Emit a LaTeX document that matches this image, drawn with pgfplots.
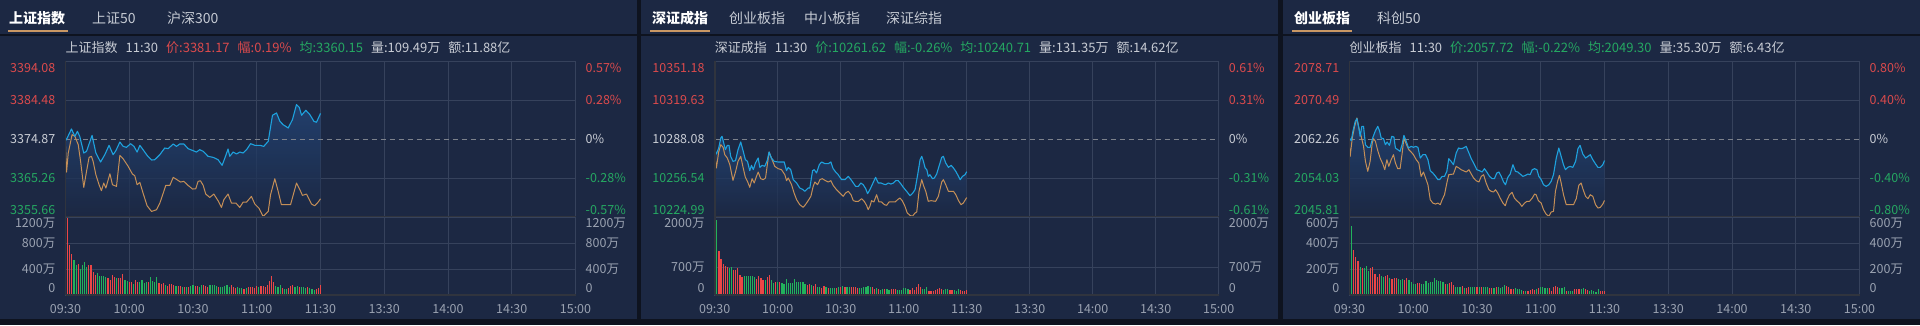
\documentclass[border=0pt]{standalone}
\usepackage{pgfplots}
\pgfplotsset{compat=1.18}
\usepackage{pgfplotstable}
\usepackage{fontspec}
\setmainfont{Noto Sans CJK SC}

\definecolor{bgout}{HTML}{0E131F}
\definecolor{panel}{HTML}{1C2843}
\definecolor{gridc}{HTML}{36425C}
\definecolor{axdark}{HTML}{30343E}
\definecolor{pblue}{HTML}{1EA2DE}
\definecolor{porange}{HTML}{C58F57}
\definecolor{vred}{HTML}{EC4646}
\definecolor{vgreen}{HTML}{22B25C}
\definecolor{tred}{HTML}{DB4A4C}
\definecolor{tgreen}{HTML}{25A862}
\definecolor{tgrey}{HTML}{9AA2B1}
\definecolor{tlight}{HTML}{C9CDD5}
\definecolor{tabin}{HTML}{C5CAD3}
\definecolor{tabline}{HTML}{C99763}
\definecolor{dashc}{HTML}{7D828C}
\definecolor{fillt}{HTML}{24477A}

% ---------- panel 1: 上证指数 ----------
\pgfplotstableread{
t v
0 3374.46
0.8 3375.12
2.8 3377.34
4.4 3375.53
5.6 3376.76
6.7 3375.53
8.6 3371.42
9.9 3371.83
12.5 3375.77
14.3 3371.42
16.5 3369.20
18.5 3371.01
20.5 3373.31
22.4 3371.01
23.7 3371.99
25.6 3374.13
27.1 3373.06
28.7 3372.81
30.6 3373.72
32.2 3373.06
33.7 3371.66
35.0 3373.31
36.5 3372.24
38.4 3370.84
40.5 3369.69
42.0 3369.77
44.4 3371.01
46.7 3372.65
48.3 3372.49
50.7 3373.64
52.2 3373.06
53.8 3373.64
55.7 3373.64
57.7 3372.49
60.1 3371.99
61.6 3371.66
63.2 3372.24
64.8 3371.83
67.1 3370.60
69.5 3370.35
71.8 3369.77
73.7 3368.38
75.0 3370.19
76.5 3372.40
77.3 3370.60
78.9 3371.66
80.5 3371.17
82.0 3371.66
83.6 3371.42
85.2 3372.24
87.1 3373.72
89.1 3373.31
91.5 3373.31
93.3 3373.06
95.4 3374.29
97.4 3380.71
99.3 3381.28
100.9 3379.23
102.4 3378.40
104.8 3377.58
106.8 3379.64
108.7 3383.34
110.0 3382.68
111.1 3380.71
113.1 3381.94
115.0 3380.87
116.9 3379.23
118.1 3378.98
120.0 3381.17
}\pOneB
\pgfplotstableread{
t v
0 3373.06
0.5 3366.73
1.3 3371.42
3.1 3375.94
4.4 3375.53
6.0 3373.47
7.1 3369.36
8.6 3362.95
9.9 3366.90
11.1 3370.35
12.2 3370.60
13.0 3369.36
14.3 3366.07
15.8 3363.61
16.9 3362.13
18.0 3364.02
19.0 3362.79
20.9 3366.32
22.1 3363.61
24.0 3363.20
25.6 3370.84
27.1 3370.02
29.5 3368.13
31.5 3366.24
32.6 3365.83
33.7 3363.61
35.0 3364.18
36.5 3361.55
38.4 3358.43
40.5 3357.03
42.8 3357.44
44.4 3359.09
46.0 3361.55
47.2 3363.44
49.1 3363.44
50.7 3365.42
52.5 3364.84
54.1 3364.27
55.7 3364.43
57.7 3363.44
59.8 3362.54
61.3 3362.62
62.4 3364.43
63.5 3364.59
64.8 3363.44
66.0 3361.31
67.9 3360.48
69.8 3361.31
71.8 3359.66
73.4 3358.02
74.5 3359.91
76.5 3361.31
78.1 3359.09
80.2 3359.09
82.0 3358.02
83.6 3359.33
85.2 3359.33
87.5 3360.73
89.1 3358.84
91.0 3357.85
93.0 3355.80
95.4 3357.03
96.5 3361.14
98.5 3365.09
100.1 3361.96
101.6 3358.68
105.9 3358.68
108.7 3364.02
110.3 3362.38
111.5 3360.98
113.4 3361.31
115.8 3358.84
117.3 3358.43
118.9 3359.33
120.0 3360.15
}\pOneO
\pgfplotstableread{
t r g
0 0 335
1 1187 0
2 774 0
3 630 0
4 0 542
5 0 454
6 480 0
7 0 402
8 0 454
9 0 506
10 0 428
11 464 0
12 454 0
13 351 0
14 310 0
15 0 346
16 0 294
17 0 299
18 0 299
19 0 284
20 268 0
21 232 0
22 310 0
23 273 0
24 0 258
25 258 0
26 258 0
27 320 0
28 0 232
29 0 222
30 206 0
31 196 0
32 0 165
33 232 0
34 206 0
35 0 196
36 0 232
37 0 191
38 0 196
39 206 0
40 0 284
41 0 217
42 0 206
43 0 284
44 181 0
45 175 0
46 191 0
47 0 155
48 139 0
49 170 0
50 165 0
51 155 0
52 0 139
53 139 0
54 134 0
55 0 129
56 129 0
57 0 129
58 124 0
59 0 134
60 0 150
61 145 0
62 139 0
63 0 124
64 0 150
65 160 0
66 139 0
67 124 0
68 0 150
69 0 155
70 0 150
71 0 134
72 124 0
73 0 119
74 0 119
75 0 134
76 0 150
77 0 129
78 160 0
79 124 0
80 114 0
81 0 119
82 0 108
83 0 103
84 93 0
85 0 114
86 119 0
87 124 0
88 129 0
89 103 0
90 145 0
91 0 119
92 134 0
93 145 0
94 129 0
95 155 0
96 217 0
97 294 0
98 206 0
99 0 139
100 0 129
101 0 150
102 103 0
103 0 88
104 0 88
105 114 0
106 139 0
107 155 0
108 0 129
109 0 145
110 129 0
111 0 119
112 0 119
113 0 114
114 129 0
115 0 103
116 0 88
117 0 83
118 93 0
119 114 0
120 150 0
}\vOne

% ---------- panel 2: 深证成指 ----------
\pgfplotstableread{
t v
0 10279.45
0.8 10275.95
1.9 10280.80
2.9 10288.89
3.5 10290.24
4.5 10283.50
5.1 10279.45
6.0 10282.96
6.8 10282.96
7.6 10274.06
8.7 10270.02
9.9 10270.56
11.1 10279.45
12.4 10285.65
13.5 10278.64
14.6 10271.36
15.6 10270.02
16.7 10262.47
17.5 10266.78
18.4 10263.28
19.4 10268.67
20.7 10272.71
21.5 10265.16
22.6 10266.78
23.8 10265.97
25.0 10270.56
25.9 10277.57
27.0 10272.71
28.3 10270.02
30.2 10269.48
33.1 10269.48
34.2 10262.47
35.0 10265.16
36.2 10263.28
37.4 10255.19
39.0 10252.49
40.5 10248.45
42.1 10247.10
42.9 10245.75
44.5 10248.45
45.3 10248.45
46.6 10262.47
47.4 10263.28
48.5 10260.58
49.8 10267.32
50.9 10269.48
52.5 10268.13
54.1 10268.13
55.3 10269.48
56.4 10264.09
57.6 10261.39
58.8 10259.23
60.4 10255.19
62.0 10255.19
63.6 10257.88
64.9 10255.19
66.0 10252.49
67.1 10249.80
68.4 10249.80
69.6 10252.49
70.7 10251.14
71.9 10247.91
72.8 10243.87
73.9 10247.10
75.0 10251.14
76.6 10257.08
77.9 10252.49
79.2 10252.49
80.3 10251.68
81.4 10251.14
82.7 10252.49
83.9 10251.68
85.1 10252.49
86.2 10254.38
87.4 10254.38
88.7 10251.68
89.8 10248.99
91.4 10245.75
93.0 10242.25
94.1 10243.87
95.4 10247.10
96.7 10259.77
97.8 10271.36
98.6 10274.06
99.4 10270.02
100.2 10264.62
101.0 10263.28
101.7 10257.88
102.5 10259.23
103.7 10256.00
104.6 10256.54
105.7 10259.77
106.8 10265.97
108.1 10273.25
108.9 10274.06
110.0 10268.67
111.3 10265.16
112.6 10266.78
113.7 10264.62
114.8 10261.93
116.1 10257.88
116.9 10255.19
118.0 10257.88
119.2 10259.23
120.0 10261.62
}\pTwoB
\pgfplotstableread{
t v
0 10275.41
0.8 10264.62
1.9 10277.57
2.9 10283.50
4.0 10281.34
4.8 10275.41
6.0 10272.71
7.2 10267.32
8.7 10254.65
9.9 10261.39
11.1 10270.02
12.4 10274.06
13.5 10265.16
14.6 10257.08
15.6 10253.84
16.7 10248.99
17.8 10256.00
18.8 10252.49
19.9 10257.88
20.7 10261.39
21.9 10256.00
23.1 10255.19
24.2 10256.54
25.9 10277.57
27.0 10272.71
28.6 10265.97
30.2 10264.09
31.8 10263.28
33.4 10259.23
34.2 10254.38
35.0 10256.54
36.6 10251.14
37.8 10244.40
39.0 10239.01
40.5 10234.97
42.1 10232.81
43.2 10234.97
44.5 10238.20
45.8 10241.71
46.9 10249.80
47.7 10253.30
49.0 10251.14
50.1 10255.19
51.2 10256.00
52.5 10254.65
54.1 10253.30
55.3 10254.38
56.4 10250.61
58.0 10247.10
59.6 10244.40
61.2 10241.71
62.3 10244.40
63.6 10245.75
64.9 10243.06
66.0 10238.20
67.1 10237.66
68.4 10237.66
70.0 10239.82
71.2 10237.66
72.3 10234.43
73.1 10230.92
73.9 10233.62
74.7 10238.20
75.8 10237.13
77.1 10243.06
78.2 10237.13
79.5 10237.13
80.8 10234.97
81.9 10234.43
83.0 10237.13
85.9 10237.13
87.1 10239.01
88.2 10240.36
89.3 10238.20
90.6 10233.62
91.7 10228.23
93.0 10226.34
94.1 10225.53
95.4 10228.23
96.2 10229.04
97.3 10245.75
98.6 10255.19
99.4 10250.61
100.5 10245.75
101.7 10237.66
103.0 10238.20
105.2 10237.66
106.5 10241.71
108.1 10253.30
108.9 10255.19
110.0 10251.14
111.3 10245.75
113.7 10245.75
114.8 10243.06
116.1 10238.20
117.3 10234.97
118.4 10236.32
120.0 10240.71
}\pTwoO
\pgfplotstableread{
t r g
0 0 620
1 0 1935
2 1135 0
3 930 0
4 790 0
5 755 0
6 730 0
7 0 690
8 0 715
9 645 0
10 630 0
11 705 0
12 515 0
13 450 0
14 0 475
15 0 475
16 0 475
17 0 475
18 0 475
19 0 450
20 410 0
21 490 0
22 430 0
23 385 0
24 0 385
25 450 0
26 515 0
27 0 385
28 0 320
29 325 0
30 0 325
31 325 0
32 0 300
33 0 285
34 0 405
35 0 300
36 0 320
37 0 320
38 0 410
39 0 325
40 0 325
41 0 325
42 0 325
43 0 285
44 260 0
45 285 0
46 0 260
47 240 0
48 275 0
49 0 205
50 0 215
51 190 0
52 230 0
53 0 200
54 190 0
55 0 190
56 0 190
57 0 170
58 170 0
59 0 200
60 200 0
61 0 225
62 200 0
63 0 200
64 0 200
65 200 0
66 200 0
67 200 0
68 170 0
69 0 190
70 0 190
71 0 205
72 0 205
73 0 230
74 0 205
75 215 0
76 155 0
77 0 170
78 145 0
79 0 130
80 0 145
81 145 0
82 0 145
83 0 130
84 155 0
85 145 0
86 155 0
87 0 130
88 0 120
89 0 130
90 0 170
91 0 170
92 0 155
93 140 0
94 170 0
95 130 0
96 215 0
97 275 0
98 215 0
99 0 155
100 0 155
101 0 200
102 110 0
103 100 0
104 110 0
105 120 0
106 145 0
107 170 0
108 155 0
109 0 130
110 0 155
111 0 155
112 130 0
113 130 0
114 0 130
115 0 110
116 0 155
117 130 0
118 110 0
119 110 0
120 130 0
}\vTwo

% ---------- panel 3: 创业板指 ----------
\pgfplotstableread{
t v
0 2062.47
0.8 2061.91
1.6 2063.88
2.7 2065.99
3.5 2066.55
4.4 2064.58
5.0 2062.82
5.8 2064.93
6.6 2064.93
7.5 2061.06
8.6 2060.50
9.7 2060.50
11.0 2062.61
12.2 2064.02
13.3 2064.93
14.1 2064.02
14.9 2062.47
16.0 2062.33
16.9 2061.06
17.7 2061.63
18.8 2060.92
19.9 2062.82
20.9 2062.68
21.6 2060.36
22.7 2060.01
23.8 2059.66
24.8 2061.20
25.6 2063.03
26.7 2061.77
27.8 2060.36
29.0 2060.71
30.1 2060.50
31.1 2060.71
32.2 2060.50
33.3 2058.25
34.5 2058.95
35.8 2058.95
36.9 2057.90
38.0 2055.58
39.2 2055.09
40.5 2054.38
41.6 2053.68
42.4 2053.68
43.6 2054.38
44.7 2054.38
45.8 2055.44
46.7 2058.11
47.8 2057.55
48.9 2056.84
50.2 2059.31
51.3 2060.36
52.5 2060.22
53.6 2060.36
54.9 2060.71
56.2 2059.31
57.3 2058.11
58.8 2056.84
59.9 2055.79
61.2 2055.58
62.4 2055.30
63.5 2056.00
64.6 2055.30
65.9 2054.38
67.1 2053.89
68.2 2053.89
69.3 2055.09
70.3 2055.30
71.4 2054.38
72.5 2053.19
73.4 2052.62
74.5 2054.17
75.6 2054.87
76.9 2056.84
78.1 2055.44
79.2 2055.30
80.3 2054.87
81.6 2054.38
82.8 2054.59
83.9 2054.87
85.0 2054.73
86.0 2055.79
87.1 2056.00
88.2 2055.79
89.1 2054.38
90.2 2053.68
91.3 2052.62
92.5 2052.27
93.8 2052.62
94.9 2053.33
96.0 2054.73
97.3 2058.25
98.5 2060.36
99.6 2058.60
100.7 2056.84
101.6 2055.79
102.7 2056.28
103.8 2056.49
105.1 2056.28
106.4 2057.55
107.5 2060.22
108.5 2060.92
109.8 2059.09
111.1 2058.25
112.2 2058.60
113.3 2058.95
114.5 2057.90
115.8 2056.98
116.9 2056.28
118.0 2056.28
119.2 2056.84
120.0 2057.72
}\pThreeB
\pgfplotstableread{
t v
0 2060.36
0.3 2058.60
1.3 2062.47
2.4 2064.93
3.5 2066.69
4.4 2064.58
5.5 2062.82
6.6 2060.71
7.5 2057.55
8.6 2055.44
9.7 2057.55
10.7 2061.42
11.3 2062.33
12.2 2061.77
13.3 2059.80
14.4 2058.25
15.7 2056.98
16.6 2055.79
17.6 2057.90
18.5 2056.49
19.6 2057.90
20.7 2058.95
21.6 2057.20
22.7 2056.00
23.8 2056.00
24.8 2059.31
25.6 2062.47
26.7 2061.20
27.9 2060.01
29.0 2059.52
30.1 2058.95
31.4 2057.90
32.6 2057.20
33.7 2054.38
34.8 2055.30
35.8 2054.03
36.9 2052.62
38.0 2049.46
39.2 2048.75
40.5 2048.54
41.6 2048.75
42.7 2048.40
43.6 2049.46
44.7 2050.51
45.8 2052.98
46.7 2054.73
48.9 2054.87
50.2 2056.49
51.5 2056.14
52.5 2055.79
53.6 2055.58
54.9 2055.30
56.2 2055.79
57.3 2054.87
58.4 2054.03
59.6 2053.47
60.9 2053.19
62.0 2054.38
63.1 2054.73
64.3 2052.98
65.6 2051.57
66.7 2051.22
67.8 2051.08
68.7 2051.57
69.8 2050.86
70.9 2049.81
72.2 2048.75
73.3 2048.19
74.2 2049.46
75.3 2050.51
76.5 2051.01
77.6 2049.81
78.7 2049.25
80.0 2048.75
81.1 2048.05
82.4 2048.75
83.5 2049.11
84.7 2049.11
86.0 2049.81
87.1 2050.65
87.8 2050.51
88.9 2049.25
90.2 2048.75
91.3 2047.35
92.5 2046.43
93.8 2045.94
94.9 2046.86
96.0 2047.00
96.9 2051.22
98.0 2053.47
98.8 2054.59
99.6 2052.98
100.7 2050.51
102.0 2048.40
105.4 2048.40
106.7 2049.67
107.9 2052.48
109.0 2052.98
109.8 2051.78
111.1 2050.16
112.2 2049.67
113.3 2050.51
114.5 2050.16
115.8 2048.40
116.9 2047.70
118.0 2047.84
119.2 2048.54
120.0 2049.30
}\pThreeO
\pgfplotstableread{
t r g
0 147 0
1 0 534
2 348 0
3 292 0
4 258 0
5 0 214
6 206 0
7 0 206
8 0 224
9 0 186
10 206 0
11 219 0
12 163 0
13 142 0
14 163 0
15 0 147
16 0 142
17 147 0
18 155 0
19 0 129
20 121 0
21 129 0
22 134 0
23 0 121
24 0 116
25 0 121
26 116 0
27 134 0
28 0 116
29 0 98
30 0 85
31 0 83
32 90 0
33 90 0
34 0 83
35 0 85
36 0 111
37 0 90
38 0 98
39 0 98
40 0 134
41 0 116
42 0 111
43 0 111
44 0 98
45 85 0
46 0 83
47 90 0
48 98 0
49 77 0
50 0 65
51 0 65
52 0 65
53 72 0
54 0 57
55 57 0
56 59 0
57 0 59
58 0 59
59 0 59
60 59 0
61 0 59
62 65 0
63 0 59
64 0 59
65 0 65
66 52 0
67 57 0
68 0 57
69 59 0
70 0 59
71 0 57
72 0 65
73 0 77
74 70 0
75 65 0
76 46 0
77 46 0
78 0 52
79 0 44
80 0 46
81 0 39
82 31 0
83 0 34
84 34 0
85 39 0
86 44 0
87 39 0
88 0 44
89 52 0
90 0 59
91 0 59
92 0 52
93 0 57
94 52 0
95 34 0
96 65 0
97 72 0
98 65 0
99 0 52
100 0 52
101 0 65
102 34 0
103 0 34
104 0 34
105 0 34
106 44 0
107 46 0
108 44 0
109 0 46
110 0 52
111 44 0
112 39 0
113 0 34
114 0 39
115 0 34
116 0 26
117 0 44
118 34 0
119 34 0
120 34 0
}\vThree

\pgfplotsset{
  panelbase/.style={scale only axis, anchor=south west, xmin=0, xmax=240,
    scaled ticks=false,
    axis line style={draw=gridc, line width=0.8pt},
    major tick length=0pt, tick style={draw=none},
    grid style={draw=gridc, line width=0.8pt},
    xmajorgrids, ymajorgrids,
    ticklabel style={font=\fontsize{12.5}{14}\selectfont, inner sep=0pt, text=tgrey},
    yticklabel style={xshift=-10pt},
    extra y tick style={grid=none},
    after end axis/.append code={
      \draw[axdark, line width=1.6pt] (rel axis cs:0,0) -- (rel axis cs:0,1);
      \draw[axdark, line width=1.6pt] (rel axis cs:0,0) -- (rel axis cs:1,0);
    }},
  priceax/.style={panelbase, height=156pt, xtick={30,60,...,210}, xticklabels={}},
  volax/.style={panelbase, height=78pt, ymin=0,
    xtick={0,30,...,240},
    xticklabels={09:30,10:00,10:30,11:00,11:30,13:30,14:00,14:30,15:00},
    xticklabel style={yshift=-9pt}},
  rightax/.style={scale only axis, anchor=south west, xmin=0, xmax=240,
    scaled ticks=false,
    axis x line=none, axis y line*=right, y axis line style={draw=none},
    major tick length=0pt, tick style={draw=none},
    ticklabel style={font=\fontsize{12.5}{14}\selectfont, inner sep=0pt, text=tgrey},
    yticklabel style={xshift=10pt}},
  bluel/.style={draw=pblue, line width=1.1pt, mark=none, line join=round},
  orangel/.style={draw=porange, line width=1.0pt, mark=none, line join=round},
  zerol/.style={draw=dashc, line width=0.9pt, dash pattern=on 5pt off 4pt},
  areaf/.style={top color=fillt, bottom color=panel, fill opacity=0.75, draw=none, mark=none},
  redbar/.style={ycomb, draw=vred, line width=1.2pt, mark=none},
  greenbar/.style={ycomb, draw=vgreen, line width=1.2pt, mark=none},
  ghost/.style={draw=none, mark=none, forget plot},
}

\newcommand\sep{\hspace{8pt}}

\begin{document}
\begin{tikzpicture}[x=1pt,y=1pt]
\fill[bgout] (0,0) rectangle (1920,325);
\fill[panel] (0,6) rectangle (637,325);
\fill[panel] (641,6) rectangle (1278,325);
\fill[panel] (1283,6) rectangle (1920,325);
\fill[bgout] (0,289.5) rectangle (1920,291.5);

% ---------- tabs ----------
\begin{scope}[every node/.style={anchor=west, inner sep=0pt, font=\fontsize{14}{16}\selectfont}]
\node[text=white] at (9,306.7) {\bfseries 上证指数};
\node[text=tabin] at (92,306.7) {上证50};
\node[text=tabin] at (167,306.7) {沪深300};
\node[text=white] at (652,306.7) {\bfseries 深证成指};
\node[text=tabin] at (729,306.7) {创业板指};
\node[text=tabin] at (804,306.7) {中小板指};
\node[text=tabin] at (886,306.7) {深证综指};
\node[text=white] at (1294,306.7) {\bfseries 创业板指};
\node[text=tabin] at (1377,306.7) {科创50};
\end{scope}
\fill[tabline] (8,293) rectangle (68,295);
\fill[tabline] (650,293) rectangle (710,295);
\fill[tabline] (1292,293) rectangle (1352,295);

% ---------- info lines ----------
\begin{scope}[every node/.style={anchor=west, inner sep=0pt, font=\fontsize{13}{15}\selectfont, text=tlight}]
\node at (65.5,277) {上证指数\sep 11:30\sep\textcolor{tred}{价:3381.17}\sep\textcolor{tred}{幅:0.19\%}\sep\textcolor{tgreen}{均:3360.15}\sep 量:109.49万\sep 额:11.88亿};
\node at (714.7,277) {深证成指\sep 11:30\sep\textcolor{tgreen}{价:10261.62}\sep\textcolor{tgreen}{幅:-0.26\%}\sep\textcolor{tgreen}{均:10240.71}\sep 量:131.35万\sep 额:14.62亿};
\node at (1349.5,277) {创业板指\sep 11:30\sep\textcolor{tgreen}{价:2057.72}\sep\textcolor{tgreen}{幅:-0.22\%}\sep\textcolor{tgreen}{均:2049.30}\sep 量:35.30万\sep 额:6.43亿};
\end{scope}

% ================= PANEL 1 =================
\begin{axis}[priceax, at={(65.5pt,108pt)}, width=510pt, ymin=3355.66, ymax=3394.08,
  ytick={3365.26,3384.48},
  yticklabels={\textcolor{tgreen}{3365.26},\textcolor{tred}{3384.48}},
  extra y ticks={3357.38,3374.87,3392.36},
  extra y tick labels={\textcolor{tgreen}{3355.66},\textcolor{tlight}{3374.87},\textcolor{tred}{3394.08}}]
\addplot[areaf] table[x=t,y=v]{\pOneB} -- (axis cs:120,3355.66) -- (axis cs:0,3355.66) -- cycle;
\addplot[zerol] coordinates {(0,3374.87) (240,3374.87)};
\addplot[orangel] table[x=t,y=v]{\pOneO};
\addplot[bluel] table[x=t,y=v]{\pOneB};
\end{axis}
\begin{axis}[rightax, at={(65.5pt,108pt)}, width=510pt, height=156pt, ymin=3355.66, ymax=3394.08,
  ytick={3357.38,3365.26,3374.87,3384.48,3392.36},
  yticklabels={\textcolor{tgreen}{-0.57\%},\textcolor{tgreen}{-0.28\%},\textcolor{tlight}{0\%},\textcolor{tred}{0.28\%},\textcolor{tred}{0.57\%}}]
\addplot[ghost] coordinates {(0,3360) (240,3390)};
\end{axis}
\begin{axis}[volax, at={(65.5pt,30pt)}, width=510pt, ymax=1200,
  ytick={400,800}, yticklabels={400万,800万},
  extra y ticks={108,1108}, extra y tick labels={0,1200万}]
\addplot[redbar] table[x=t,y=r]{\vOne};
\addplot[greenbar] table[x=t,y=g]{\vOne};
\end{axis}
\begin{axis}[rightax, at={(65.5pt,30pt)}, width=510pt, height=78pt, ymin=0, ymax=1200,
  ytick={108,400,800,1108}, yticklabels={0,400万,800万,1200万}]
\addplot[ghost] coordinates {(0,100) (240,1100)};
\end{axis}

% ================= PANEL 2 =================
\begin{axis}[priceax, at={(714.7pt,108pt)}, width=504pt, ymin=10224.99, ymax=10351.18,
  ytick={10256.54,10319.63},
  yticklabels={\textcolor{tgreen}{10256.54},\textcolor{tred}{10319.63}},
  extra y ticks={10230.65,10288.08,10345.52},
  extra y tick labels={\textcolor{tgreen}{10224.99},\textcolor{tlight}{10288.08},\textcolor{tred}{10351.18}}]
\addplot[areaf] table[x=t,y=v]{\pTwoB} -- (axis cs:120,10224.99) -- (axis cs:0,10224.99) -- cycle;
\addplot[zerol] coordinates {(0,10288.08) (240,10288.08)};
\addplot[orangel] table[x=t,y=v]{\pTwoO};
\addplot[bluel] table[x=t,y=v]{\pTwoB};
\end{axis}
\begin{axis}[rightax, at={(714.7pt,108pt)}, width=504pt, height=156pt, ymin=10224.99, ymax=10351.18,
  ytick={10230.65,10256.54,10288.08,10319.63,10345.52},
  yticklabels={\textcolor{tgreen}{-0.61\%},\textcolor{tgreen}{-0.31\%},\textcolor{tlight}{0\%},\textcolor{tred}{0.31\%},\textcolor{tred}{0.61\%}}]
\addplot[ghost] coordinates {(0,10240) (240,10340)};
\end{axis}
\begin{axis}[volax, at={(714.7pt,30pt)}, width=504pt, ymax=2000,
  ytick={700}, yticklabels={700万},
  extra y ticks={180,1846}, extra y tick labels={0,2000万}]
\addplot[redbar] table[x=t,y=r]{\vTwo};
\addplot[greenbar] table[x=t,y=g]{\vTwo};
\end{axis}
\begin{axis}[rightax, at={(714.7pt,30pt)}, width=504pt, height=78pt, ymin=0, ymax=2000,
  ytick={180,700,1846}, yticklabels={0,700万,2000万}]
\addplot[ghost] coordinates {(0,100) (240,1900)};
\end{axis}

% ================= PANEL 3 =================
\begin{axis}[priceax, at={(1349.5pt,108pt)}, width=510pt, ymin=2045.81, ymax=2078.71,
  ytick={2054.03,2070.49},
  yticklabels={\textcolor{tgreen}{2054.03},\textcolor{tred}{2070.49}},
  extra y ticks={2047.29,2062.26,2077.23},
  extra y tick labels={\textcolor{tgreen}{2045.81},\textcolor{tlight}{2062.26},\textcolor{tred}{2078.71}}]
\addplot[areaf] table[x=t,y=v]{\pThreeB} -- (axis cs:120,2045.81) -- (axis cs:0,2045.81) -- cycle;
\addplot[zerol] coordinates {(0,2062.26) (240,2062.26)};
\addplot[orangel] table[x=t,y=v]{\pThreeO};
\addplot[bluel] table[x=t,y=v]{\pThreeB};
\end{axis}
\begin{axis}[rightax, at={(1349.5pt,108pt)}, width=510pt, height=156pt, ymin=2045.81, ymax=2078.71,
  ytick={2047.29,2054.03,2062.26,2070.49,2077.23},
  yticklabels={\textcolor{tgreen}{-0.80\%},\textcolor{tgreen}{-0.40\%},\textcolor{tlight}{0\%},\textcolor{tred}{0.40\%},\textcolor{tred}{0.80\%}}]
\addplot[ghost] coordinates {(0,2050) (240,2075)};
\end{axis}
\begin{axis}[volax, at={(1349.5pt,30pt)}, width=510pt, ymax=600,
  ytick={200,400}, yticklabels={200万,400万},
  extra y ticks={54,554}, extra y tick labels={0,600万}]
\addplot[redbar] table[x=t,y=r]{\vThree};
\addplot[greenbar] table[x=t,y=g]{\vThree};
\end{axis}
\begin{axis}[rightax, at={(1349.5pt,30pt)}, width=510pt, height=78pt, ymin=0, ymax=600,
  ytick={54,200,400,554}, yticklabels={0,200万,400万,600万}]
\addplot[ghost] coordinates {(0,50) (240,550)};
\end{axis}
\pgfresetboundingbox
\useasboundingbox (0,0) rectangle (1920,325);
\end{tikzpicture}
\end{document}
